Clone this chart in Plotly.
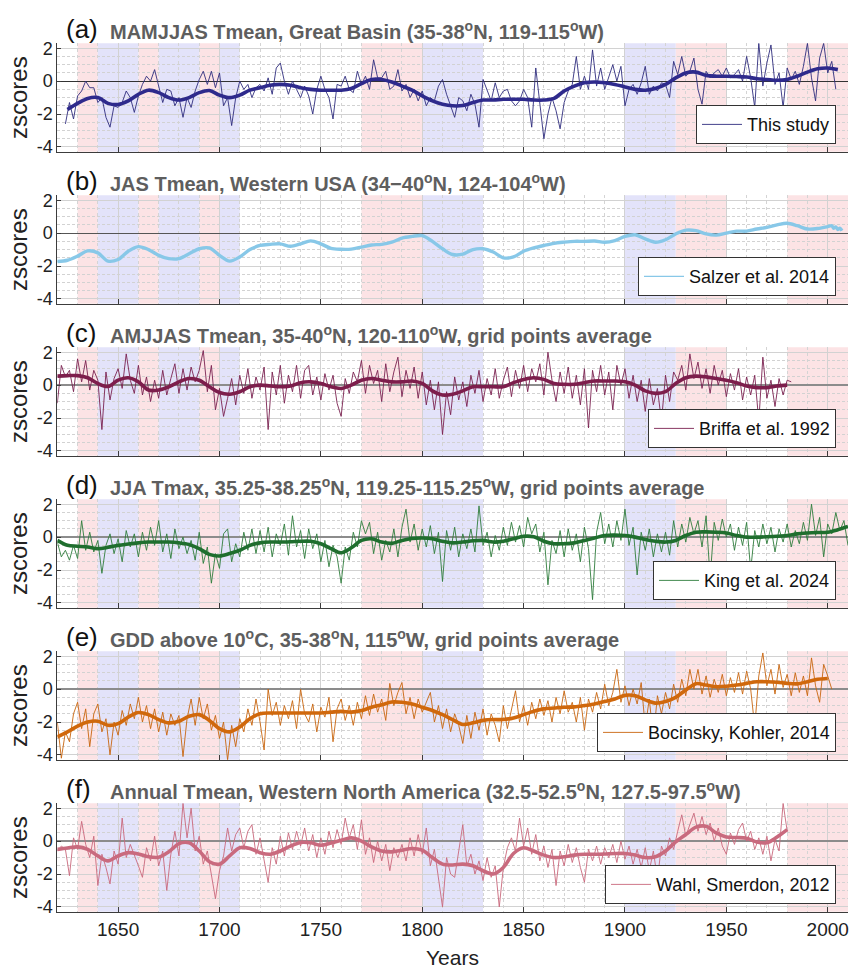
import plotly.graph_objects as go

# ---------------- data ----------------
YEAR_RANGE = [1620, 2010]
Y_RANGE = [-4.29, 2.3]
X_TICK_START, X_TICK_STEP = 1650, 50
Y_TICKS = [-4, -2, 0, 2]

PINK_PERIODS = [(1630, 1640), (1660, 1670), (1690, 1700), (1770, 1800), (1925, 1950), (1980, 2010)]
BLUE_PERIODS = [(1640, 1660), (1670, 1690), (1700, 1710), (1800, 1830), (1900, 1925)]

PANEL_LETTERS = ["(a)", "(b)", "(c)", "(d)", "(e)", "(f)"]
PANEL_TITLES = [
    "MAMJJAS Tmean, Great Basin (35-38<sup>o</sup>N, 119-115<sup>o</sup>W)",
    "JAS Tmean, Western USA (34\u221240<sup>o</sup>N, 124-104<sup>o</sup>W)",
    "AMJJAS Tmean, 35-40<sup>o</sup>N, 120-110<sup>o</sup>W, grid points average",
    "JJA Tmax, 35.25-38.25<sup>o</sup>N, 119.25-115.25<sup>o</sup>W, grid points average",
    "GDD above 10<sup>o</sup>C, 35-38<sup>o</sup>N, 115<sup>o</sup>W, grid points average",
    "Annual Tmean, Western North America (32.5-52.5<sup>o</sup>N, 127.5-97.5<sup>o</sup>W)",
]
LEGEND_NAMES = ["This study", "Salzer et al. 2014", "Briffa et al. 1992",
                "King et al. 2024", "Bocinsky, Kohler, 2014", "Wahl, Smerdon, 2012"]

# (a) This study: annual values every 2 years from 1624, 5-year smooth from 1625
A_RAW_START = 1624
A_RAW = [-2.6, -1.3, -2.3, -0.9, -0.6, 0.0, -0.4, -0.4, -1.3, -1.0,
         -2.2, -2.8, -1.5, -1.6, -1.3, -0.6, -1.0, -1.9, -0.9, -0.2,
         0.3, 0.0, 0.7, -0.3, -1.3, -0.5, -0.6, -1.5, -1.0, -2.2,
         -1.0, -1.6, -0.6, 0.1, 0.6, -0.2, 0.6, -0.4, 0.5, -1.5,
         -1.0, -2.7, -1.0, 0.0, -0.5, -0.2, -1.0, -0.4, -0.2, -0.6,
         0.2, -0.8, 0.8, 1.1, 0.0, -0.8, 0.0, -0.5, -1.0, -0.3,
         -0.9, -2.0, -0.5, 0.3, -0.5, -1.0, -2.3, -0.2, -0.3, 0.3,
         -0.5, -0.7, 0.6, -0.2, 0.3, -0.5, 1.3, 0.2, 0.2, 0.6,
         -0.5, -0.3, 0.7, -0.6, -0.2, -1.0, -0.5, -1.2, -0.6, -1.5,
         -1.0, -1.2, -0.3, 0.1, -0.8, -1.5, -2.2, -1.0, -1.2, -1.8,
         -0.8, -1.4, -2.8, 0.1, -0.6, -1.2, -0.1, -1.0, -0.6, -0.5,
         -1.2, -1.5, -1.2, -0.5, -1.0, -2.8, 0.8, -1.4, -3.5, -2.0,
         -1.0, -1.8, -2.9, -1.3, -0.6, -0.2, 1.5, -0.5, 0.3, -0.5,
         1.9, -0.3, 0.8, -0.5, 0.2, 1.0, 0.0, 0.9, -1.5, -0.5,
         -0.2, -0.8, -0.1, 0.9, -0.8, -0.3, -0.6, -0.1, -0.2, -1.0,
         1.2, 0.4, 1.5, 0.3, 0.6, 1.4, -0.5, -1.4, 0.6, 0.2,
         0.5, 0.7, 0.3, 0.8, 0.2, 0.4, 0.7, 0.0, 1.5, 0.2,
         -1.6, 2.3, -0.3, 1.1, 2.2, -0.2, 0.5, -1.6, 0.8, 0.1,
         0.6, -0.2, 0.9, 2.3, 0.2, -1.2, 1.4, 2.3, 0.5, 1.2,
         -0.5]
A_SMOOTH_START = 1625
A_SMOOTH = [-1.72, -1.35, -1.05, -1.0, -1.35, -1.42, -1.2, -0.8, -0.55, -0.7,
            -1.0, -1.15, -1.0, -0.7, -0.57, -0.85, -1.0, -0.85, -0.55, -0.4,
            -0.25, -0.2, -0.25, -0.4, -0.5, -0.55, -0.55, -0.55, -0.45, -0.15,
            0.1, 0.1, -0.05, -0.3, -0.55, -0.9, -1.2, -1.4, -1.5, -1.48,
            -1.3, -1.15, -1.15, -1.1, -1.1, -1.1, -1.15, -1.15, -1.05, -0.6,
            -0.3, -0.1, -0.05, -0.1, -0.2, -0.35, -0.5, -0.55, -0.45, -0.2,
            0.2, 0.5, 0.55, 0.35, 0.3, 0.3, 0.28, 0.25, 0.15, 0.1,
            0.05, 0.1, 0.3, 0.55, 0.75, 0.8, 0.7]

# (b) Salzer et al. 2014 (already smooth)
B_YEARS = [1620, 1625, 1630, 1635, 1640, 1645, 1650, 1655, 1660, 1665,
           1670, 1675, 1680, 1685, 1690, 1695, 1700, 1705, 1710, 1715,
           1720, 1725, 1730, 1735, 1740, 1745, 1750, 1755, 1760, 1765,
           1770, 1775, 1780, 1785, 1790, 1795, 1800, 1805, 1810, 1815,
           1820, 1825, 1830, 1835, 1840, 1845, 1850, 1855, 1860, 1865,
           1870, 1875, 1880, 1885, 1890, 1895, 1900, 1905, 1910, 1915,
           1920, 1925, 1930, 1935, 1940, 1945, 1950, 1955, 1960, 1965,
           1970, 1975, 1980, 1985, 1990, 1995, 2000, 2002, 2003, 2004,
           2005, 2006, 2007]
B_VALUES = [-1.72, -1.65, -1.4, -1.08, -1.2, -1.7, -1.6, -1.1, -0.82, -1.0,
            -1.35, -1.55, -1.55, -1.25, -0.95, -0.9, -1.35, -1.7, -1.45, -1.0,
            -0.75, -0.68, -0.65, -0.8, -0.65, -0.47, -0.65, -0.93, -0.98, -0.97,
            -0.85, -0.72, -0.68, -0.55, -0.3, -0.2, -0.15, -0.5, -0.95, -1.3,
            -1.28, -1.0, -0.95, -1.15, -1.5, -1.45, -1.1, -0.9, -0.75, -0.62,
            -0.55, -0.5, -0.5, -0.48, -0.55, -0.45, -0.2, -0.1, -0.35, -0.55,
            -0.4, -0.05, 0.18, 0.15, -0.05, -0.12, 0.0, 0.12, 0.12, 0.25,
            0.35, 0.5, 0.6, 0.45, 0.25, 0.28, 0.4, 0.45, 0.3, 0.38,
            0.22, 0.3, 0.15]

# (c) Briffa et al. 1992
C_RAW_START = 1620
C_RAW = [-1.1, 1.2, 0.5, 0.9, -0.4, 1.6, 0.2, 1.5, -0.3, 0.9,
         0.3, -2.7, 0.8, -0.9, 0.4, 1.0, -0.2, 1.9, 0.3, -0.5,
         1.2, -0.6, 0.5, -1.0, 0.3, -0.8, 0.9, -0.6, 0.4, 1.3,
         -0.5, 1.0, -0.3, 1.1, 0.2, 0.9, 2.1, -0.4, 1.2, -1.5,
         -0.2, -1.9, -0.8, 0.4, -1.2, 0.6, -0.5, 1.0, -0.8, 0.5,
         -0.3, 1.1, -2.7, 0.8, -0.6, 1.2, -1.1, 0.6, -0.4, 1.2,
         -0.8, 0.9, 1.2, -0.6, 0.5, -0.9, 0.7, -0.3, 0.6, -1.1,
         -1.9, 0.4, -0.5, 0.8, 0.2, 1.5, -0.5, 1.2, 0.1, 0.9,
         -1.0, 1.3, -0.4, 0.8, 1.7, -0.7, 0.9, -0.2, 1.1, -0.8,
         0.8, -1.2, 0.3, -1.5, 0.2, -3.0, -0.4, -1.8, 0.5, -0.9,
         0.2, -1.3, 0.6, -0.5, 0.9, -1.0, 0.4, -0.6, 1.0, -0.8,
         0.3, 1.1, -0.7, 0.9, -0.2, 1.2, -0.4, 1.0, 0.2, 1.3,
         -0.6, 2.0, 0.3, -1.0, 0.8, -0.5, 1.1, -0.8, 0.6, -1.2,
         1.0, -2.6, 0.9, -0.4, 1.2, -0.6, 0.8, -1.5, 1.2, 0.0,
         1.0, -0.8, 0.6, -1.0, 0.3, -1.6, 0.4, -1.2, -0.2, -2.2,
         0.6, -1.0, 0.8, 0.3, 1.2, -0.3, 1.9, 0.4, 1.4, -0.2,
         1.0, -0.5, 1.2, 0.0, 0.9, -0.7, 0.7, -0.3, 1.0, -0.9,
         0.5, -0.6, 0.6, -2.2, 1.7, -0.8, 0.3, -1.3, 0.4, -0.6,
         0.3, 0.2]
C_SMOOTH_START = 1620
C_SMOOTH = [0.55, 0.58, 0.58, 0.45, 0.1, -0.08, 0.3, 0.45, 0.2, -0.3,
            -0.3, -0.1, 0.2, 0.4, 0.3, -0.1, -0.45, -0.55, -0.4, -0.1,
            0.0, -0.05, -0.1, -0.05, 0.15, 0.2, 0.1, -0.1, -0.2, 0.0,
            0.3, 0.4, 0.3, 0.2, 0.2, 0.25, 0.1, -0.35, -0.6, -0.55,
            -0.35, -0.1, -0.1, -0.1, -0.1, 0.15, 0.35, 0.45, 0.35, 0.1,
            0.05, 0.05, 0.15, 0.25, 0.25, 0.25, 0.2, 0.0, -0.35, -0.5,
            -0.4, 0.1, 0.45, 0.55, 0.5, 0.4, 0.3, 0.15, -0.05, -0.15,
            -0.15, -0.05, 0.0]

# (d) King et al. 2024
D_RAW_START = 1620
D_RAW = [-0.3, -1.2, -0.8, -1.4, -0.5, -1.3, 1.0, -0.8, 0.3, -0.9,
         -0.2, -2.2, -0.5, 0.2, -1.0, -0.1, -1.5, 0.4, -0.6, 0.2,
         -1.2, 0.3, -0.8, 0.6, -0.5, 1.0, -0.9, 0.2, -1.3, 0.5,
         -0.7, 0.0, -1.0, -0.2, -1.4, 0.3, -1.6, -0.6, -2.8, -1.0,
         -1.9, 0.2, 0.5, -1.5, -0.4, -1.2, 0.3, -0.8, 0.5, -1.0,
         0.4, -0.9, 0.6, -1.2, 0.2, -0.5, 0.8, -1.1, 1.3, -0.6,
         0.4, -1.3, 0.5, -0.7, 0.2, -1.5, -0.2, -1.8, -0.5, -1.2,
         -2.8, -0.6, -1.4, 0.3, -0.6, 1.0, 0.2, 0.9, -1.0, 0.3,
         -1.4, -0.2, -0.9, 0.5, -1.2, 0.6, 1.7, -0.3, 0.8, -0.8,
         0.5, -0.6, 0.7, -1.0, 0.3, -2.7, 0.4, -0.8, 0.6, -1.2,
         0.2, -0.7, 0.5, -0.9, 1.9, -0.5, 0.3, -1.2, 0.1, -0.8,
         0.6, -0.5, 0.9, -0.3, 0.7, -0.6, 1.2, 0.2, 0.8, -0.9,
         0.3, -2.9, -0.2, -1.0, 0.4, -1.2, 0.5, -0.8, 0.2, -1.5,
         0.6, -0.7, -3.8, 0.3, 1.5, -0.4, 0.8, -0.6, 1.0, -0.2,
         1.7, -0.5, 0.6, -2.3, 0.3, -0.8, 0.5, -1.2, 0.2, -0.9,
         0.3, -1.1, 1.0, -0.6, 0.8, -0.3, 1.2, 0.2, 1.0, -0.6,
         1.3, -2.5, 0.9, -0.2, 1.1, 0.0, 0.8, -0.8, 0.6, -0.5,
         0.9, -2.0, 0.4, -0.6, 0.8, -0.4, 0.6, -0.9, 0.5, -0.3,
         0.8, -0.6, 0.4, -0.4, 0.9, -0.2, 2.0, 0.1, 1.2, -1.2,
         0.8, 0.2, 1.5, 0.4, 1.0, -0.5]
D_SMOOTH_START = 1620
D_SMOOTH = [-0.2, -0.5, -0.55, -0.6, -0.7, -0.62, -0.5, -0.42, -0.35, -0.3,
            -0.3, -0.3, -0.35, -0.45, -0.7, -1.05, -1.15, -1.0, -0.8, -0.5,
            -0.35, -0.3, -0.3, -0.28, -0.25, -0.25, -0.4, -0.7, -0.95, -0.65,
            -0.2, -0.1, -0.3, -0.38, -0.2, -0.08, -0.05, -0.1, -0.25, -0.35,
            -0.3, -0.22, -0.2, -0.3, -0.25, -0.1, 0.05, 0.02, -0.25, -0.4,
            -0.4, -0.35, -0.2, -0.05, 0.1, 0.12, 0.1, 0.0, -0.15, -0.25,
            -0.3, -0.2, 0.1, 0.3, 0.32, 0.3, 0.25, 0.1, 0.0, 0.0,
            0.02, 0.05, 0.1, 0.2, 0.25, 0.28, 0.3, 0.45, 0.65]

# (e) Bocinsky, Kohler, 2014
E_RAW_START = 1620
E_RAW = [-2.0, -4.2, -2.6, -3.2, -1.5, -0.8, -2.4, -1.2, -3.5, -1.5,
         -0.9, -2.6, -1.8, -4.0, -2.0, -2.8, -1.3, -2.2, -0.9, -1.8,
         -0.5, -2.0, -1.0, -2.4, -1.2, -2.6, -1.4, -2.8, -1.5, -2.2,
         -1.6, -4.1, -1.8, -0.6, -2.2, -0.5, -1.8, -0.9, -2.5, -1.6,
         -3.0, -2.0, -4.3, -2.2, -3.5, -1.8, -2.6, -1.2, -2.2, -0.6,
         -2.0, -3.7, 0.0, -1.6, -0.8, -2.2, -1.0, -1.8, -0.7, -2.4,
         0.0, -1.5, -2.0, -0.9, -2.6, -1.1, -1.7, -0.5, -3.2, -1.2,
         -0.6, -1.9, -1.0, -2.2, -0.8, -1.8, -0.4, -1.6, -0.3, -1.4,
         -0.6, -1.9, 0.35, -1.0, -0.2, 0.4, -1.5, -0.5, -1.8, -0.6,
         -1.4, -0.8, -0.2, -2.0, -1.0, -2.4, -1.2, -2.6, -1.5, -2.2,
         -3.3, -1.6, -3.0, -1.4, -2.5, -1.2, -2.8, -1.5, -2.2, -3.2,
         -1.0, -2.4, -1.2, -0.1, -2.0, -1.0, -2.2, -0.8, -1.8, -0.6,
         -1.6, -0.7, -2.0, -0.5, -1.5, -0.1, -1.4, -0.8, -2.0, -0.5,
         -2.5, -0.6, -1.4, -0.2, -1.2, 0.3, -1.0, -0.2, 1.2, -0.8,
         0.2, -1.0, 0.0, -0.9, 0.4, -2.3, -0.6, -3.0, -0.4, -1.5,
         -0.2, -1.2, 0.3, -0.8, 0.6, -0.4, 1.2, 0.0, 1.2, -0.3,
         0.8, -0.5, 0.6, -0.2, 0.9, -0.4, 0.7, -0.2, 1.0, -0.3,
         1.1, 0.0, -2.3, 0.8, 2.2, 0.2, 1.2, -0.3, 1.5, 0.1,
         0.9, -0.4, 1.0, -0.2, 0.8, -0.4, 1.9, 0.2, -0.8, 1.5,
         0.8, 0.0]
E_SMOOTH_START = 1620
E_SMOOTH = [-2.9, -2.6, -2.25, -2.0, -1.95, -2.2, -2.1, -1.7, -1.42, -1.55,
            -1.85, -2.05, -1.95, -1.65, -1.55, -1.9, -2.4, -2.6, -2.3, -1.8,
            -1.5, -1.45, -1.45, -1.45, -1.45, -1.45, -1.45, -1.4, -1.35, -1.4,
            -1.3, -1.1, -0.95, -0.78, -0.8, -0.9, -1.1, -1.3, -1.55, -1.85,
            -2.15, -2.05, -1.9, -1.85, -1.85, -1.75, -1.55, -1.35, -1.2, -1.15,
            -1.1, -1.08, -1.0, -0.9, -0.75, -0.6, -0.38, -0.4, -0.65, -0.85,
            -0.75, -0.5, -0.05, 0.33, 0.25, 0.15, 0.18, 0.25, 0.35, 0.45,
            0.45, 0.42, 0.35, 0.32, 0.45, 0.6, 0.65]

# (f) Wahl, Smerdon, 2012
F_RAW_START = 1620
F_RAW = [-0.6, -0.3, -0.5, -2.1, 0.2, -0.5, 1.2, -0.2, -1.0, 0.3,
         -2.7, -0.8, -1.6, -2.6, -0.6, -1.4, 1.4, -1.0, -0.2, -0.8,
         -1.5, -2.2, -0.4, -1.2, 0.3, -1.5, -0.6, -3.0, -0.8, 0.6,
         -0.9, 2.3, 0.2, 2.0, -0.6, 0.3, -1.4, -0.6, -2.2, -3.5,
         -1.8, -0.9, 0.8, -0.6, 0.4, 0.8, -0.4, 0.6, 1.0, -0.8,
         0.2, -1.2, -2.5, -0.4, -1.4, 0.3, -0.9, 0.5, -0.5, 0.6,
         -0.3, 0.8, -0.6, 0.4, -1.0, 0.2, -0.8, 0.6, -0.4, 0.7,
         -0.2, 1.4, 0.2, 1.0, -0.5, 1.3, -0.8, 0.2, -1.3, 0.0,
         -1.2, -0.2, -1.8, -0.4, -1.0, -0.2, -1.2, 0.2, -0.9, 0.4,
         -0.8, 0.8, -1.5, -0.5, -2.2, -4.0, -1.0, -2.0, -2.2, -0.6,
         1.0, -1.5, -0.8, -2.0, -1.2, -2.4, -1.0, -2.2, -1.5, -4.0,
         -1.6, -0.4, 0.2, -0.6, 1.4, -0.3, 0.8, -0.8, 0.4, -1.2,
         -0.3, -1.6, -0.5, -2.7, -0.6, -1.5, -0.2, -1.3, -0.4, -1.6,
         -2.5, -0.5, -1.2, -0.3, -1.4, -0.4, -1.0, -0.2, -1.3, 0.0,
         -1.1, -0.3, -1.4, -0.5, -1.6, -0.4, -1.8, -0.6, -2.3, -0.3,
         -0.9, 0.2, -0.5, 0.6, 1.6, 0.3, 1.0, 1.7, 0.6, 1.5,
         0.4, 1.1, 0.0, 0.8, -0.3, -0.8, 0.5, -0.2, 0.7, 1.1,
         0.0, 0.6, -0.5, 0.2, -0.8, 0.3, -1.2, 0.1, -0.6, 2.3,
         0.6]
F_SMOOTH_START = 1620
F_SMOOTH = [-0.5, -0.42, -0.35, -0.5, -0.9, -1.2, -0.9, -0.7, -0.78, -0.95,
            -0.98, -0.65, -0.15, -0.1, -0.6, -1.25, -1.4, -0.9, -0.4, -0.45,
            -0.7, -0.8, -0.6, -0.3, -0.08, -0.1, -0.25, -0.12, 0.05, 0.2,
            0.0, -0.35, -0.6, -0.65, -0.55, -0.45, -0.55, -1.0, -1.4, -1.45,
            -1.4, -1.5, -1.8, -2.0, -1.6, -0.75, -0.4, -0.6, -0.85, -1.0,
            -0.95, -0.85, -0.8, -0.8, -0.78, -0.75, -0.75, -0.85, -1.0, -0.95,
            -0.6, -0.05, 0.4, 0.85, 0.9, 0.5, 0.25, 0.22, 0.18, -0.05,
            -0.1, 0.25, 0.7]

RAW_STEP = 2
SMOOTH_STEP = 5

# ---------------- style ----------------
W, H = 851, 968
FONT = "Liberation Sans, Arial, sans-serif"
X0_PX, X1_PX = 57.3, 848.0
TOP0_PX, PANEL_H_PX, PANEL_STEP_PX = 43.3, 108.4, 152.0

RAW_COLORS = ["#2f2d7e", None, "#7b2150", "#2f7d3c", "#c8650f", "#c9687c"]
SMOOTH_COLORS = ["#2e2a8c", "#88c8e8", "#7d1e4c", "#1f6e2e", "#d0680c", "#c96a7e"]
ZERO_COLORS = ["#333333", "#555555", "#8c8c8c", "#8c8c8c", "#8c8c8c", "#8c8c8c"]
PINK = "#fce3e5"
BLUE = "#e3e3fa"


def years_from(start, n, step):
    return list(range(start, start + step * n, step))


raw_series = [
    (years_from(A_RAW_START, len(A_RAW), RAW_STEP), A_RAW),
    None,
    (years_from(C_RAW_START, len(C_RAW), RAW_STEP), C_RAW),
    (years_from(D_RAW_START, len(D_RAW), RAW_STEP), D_RAW),
    (years_from(E_RAW_START, len(E_RAW), RAW_STEP), E_RAW),
    (years_from(F_RAW_START, len(F_RAW), RAW_STEP), F_RAW),
]
smooth_series = [
    (years_from(A_SMOOTH_START, len(A_SMOOTH), SMOOTH_STEP), A_SMOOTH),
    (B_YEARS, B_VALUES),
    (years_from(C_SMOOTH_START, len(C_SMOOTH), SMOOTH_STEP), C_SMOOTH),
    (years_from(D_SMOOTH_START, len(D_SMOOTH), SMOOTH_STEP), D_SMOOTH),
    (years_from(E_SMOOTH_START, len(E_SMOOTH), SMOOTH_STEP), E_SMOOTH),
    (years_from(F_SMOOTH_START, len(F_SMOOTH), SMOOTH_STEP), F_SMOOTH),
]

fig = go.Figure()
layout = dict(
    width=W, height=H, autosize=False,
    margin=dict(l=0, r=0, t=0, b=0),
    paper_bgcolor="white", plot_bgcolor="white",
    template="none",
    font=dict(family=FONT, color="#222222"),
    shapes=[], annotations=[],
)

for i in range(6):
    n = i + 1
    sfx = "" if n == 1 else str(n)
    xa, ya = "x" + sfx, "y" + sfx
    leg = "legend" + sfx
    top = TOP0_PX + PANEL_STEP_PX * i
    bot = top + PANEL_H_PX
    ydom = [1 - bot / H, 1 - top / H]

    # traces
    if raw_series[i] is not None:
        rx, ry = raw_series[i]
        fig.add_trace(go.Scatter(x=rx, y=ry, mode="lines", name=LEGEND_NAMES[i],
                                 line=dict(color=RAW_COLORS[i], width=0.9),
                                 xaxis=xa, yaxis=ya, legend=leg, showlegend=True,
                                 hoverinfo="skip"))
        sx, sy = smooth_series[i]
        fig.add_trace(go.Scatter(x=sx, y=sy, mode="lines", showlegend=False,
                                 line=dict(color=SMOOTH_COLORS[i], width=3.6,
                                           shape="spline", smoothing=0.9),
                                 xaxis=xa, yaxis=ya, hoverinfo="skip"))
    else:
        sx, sy = smooth_series[i]
        fig.add_trace(go.Scatter(x=sx, y=sy, mode="lines", showlegend=False,
                                 line=dict(color=SMOOTH_COLORS[i], width=3.4,
                                           shape="spline", smoothing=0.9),
                                 xaxis=xa, yaxis=ya, hoverinfo="skip"))
        fig.add_trace(go.Scatter(x=sx, y=sy, mode="lines", name=LEGEND_NAMES[i],
                                 line=dict(color=SMOOTH_COLORS[i], width=1.2,
                                           shape="spline", smoothing=0.9),
                                 xaxis=xa, yaxis=ya, legend=leg, showlegend=True,
                                 hoverinfo="skip"))

    # axes
    layout["xaxis" + sfx] = dict(
        domain=[X0_PX / W, X1_PX / W], range=YEAR_RANGE, anchor=ya,
        showline=True, linecolor="#3c3c3c", linewidth=1, mirror=False,
        ticks="inside", ticklen=5, tickcolor="#3c3c3c", tickwidth=1,
        tick0=X_TICK_START, dtick=X_TICK_STEP, tickmode="linear",
        showticklabels=(n == 6), tickfont=dict(size=19, color="#222222", family=FONT),
        showgrid=True, gridcolor="#d2d2d2", gridwidth=1,
        minor=dict(dtick=10, tick0=1620, showgrid=True, gridcolor="#d4d4d4",
                   griddash="dot", gridwidth=1),
        zeroline=False, automargin=False, fixedrange=True,
    )
    layout["yaxis" + sfx] = dict(
        domain=ydom, range=Y_RANGE, anchor=xa,
        showline=True, linecolor="#3c3c3c", linewidth=1, mirror=False,
        ticks="inside", ticklen=4, tickcolor="#3c3c3c", tickwidth=1,
        tickmode="array", tickvals=Y_TICKS, ticktext=[str(v) for v in Y_TICKS],
        tickfont=dict(size=18, color="#222222", family=FONT),
        showgrid=True, gridcolor="#d2d2d2", gridwidth=1,
        minor=dict(dtick=0.5, tick0=0, showgrid=True, gridcolor="#d2d2d2",
                   griddash="3px,2px", gridwidth=1),
        zeroline=True, zerolinecolor=ZERO_COLORS[i],
        zerolinewidth=1 if i < 2 else 1.6,
        automargin=False, fixedrange=True,
    )

    # shaded periods
    xref = xa
    yref = ya + " domain"
    for (a, b) in PINK_PERIODS:
        layout["shapes"].append(dict(type="rect", xref=xref, yref=yref, x0=a, x1=b,
                                     y0=0, y1=1, fillcolor=PINK, line=dict(width=0),
                                     layer="below"))
    for (a, b) in BLUE_PERIODS:
        layout["shapes"].append(dict(type="rect", xref=xref, yref=yref, x0=a, x1=b,
                                     y0=0, y1=1, fillcolor=BLUE, line=dict(width=0),
                                     layer="below"))

    # titles
    layout["annotations"].append(dict(
        text=PANEL_LETTERS[i], xref="paper", yref="paper",
        x=64 / W, y=1 - (top - 14.5) / H, xanchor="left", yanchor="middle",
        showarrow=False, font=dict(size=26, color="#111111", family=FONT)))
    layout["annotations"].append(dict(
        text="<b>" + PANEL_TITLES[i] + "</b>", xref="paper", yref="paper",
        x=108 / W, y=1 - (top - 12.5) / H, xanchor="left", yanchor="middle",
        showarrow=False, font=dict(size=20, color="#5e5e5e", family=FONT)))
    layout["annotations"].append(dict(
        text="zscores", xref="paper", yref="paper",
        x=18.5 / W, y=1 - (top + PANEL_H_PX / 2) / H, xanchor="center", yanchor="middle",
        textangle=-90, showarrow=False, font=dict(size=24, color="#222222", family=FONT)))

    # legend
    layout[leg] = dict(
        x=836 / W, y=1 - (bot - 7.5) / H, xanchor="right", yanchor="bottom",
        bgcolor="white", bordercolor="#333333", borderwidth=1,
        font=dict(size=18, color="#111111", family=FONT),
        tracegroupgap=0, itemwidth=40,
    )

layout["annotations"].append(dict(
    text="Years", xref="paper", yref="paper",
    x=(X0_PX + X1_PX) / 2 / W, y=1 - 957 / H, xanchor="center", yanchor="middle",
    showarrow=False, font=dict(size=21, color="#222222", family=FONT)))

fig.update_layout(**layout)
fig.write_html("out.html")
